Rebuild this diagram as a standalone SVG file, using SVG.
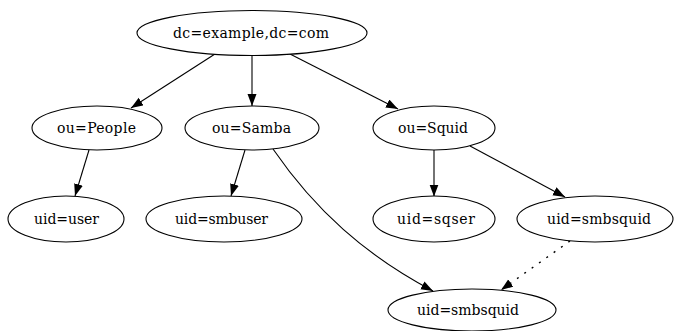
<svg xmlns="http://www.w3.org/2000/svg" width="675" height="331" viewBox="0 0 675 331">
<style>
.n ellipse{fill:#fff;stroke:#000;stroke-width:1.1}
.n text{font-family:'DejaVu Serif','Liberation Serif',serif;font-size:14px;fill:#000;text-anchor:middle}
.e path{fill:none;stroke:#000;stroke-width:1.1}
.e .d{stroke-dasharray:2,7;stroke-width:1.4}
</style>
<defs>
<marker id="ah" markerUnits="userSpaceOnUse" markerWidth="13" markerHeight="10" refX="12" refY="4.5" orient="auto">
<path d="M0,0 L12,4.5 L0,9 z" fill="#000"/>
</marker>
</defs>
<rect width="675" height="331" fill="#fff"/>
<g id="edges" class="e">
<path d="M215,54 L131,108" marker-end="url(#ah)"/>
<path d="M252,55 L252,106" marker-end="url(#ah)"/>
<path d="M290,54 L398,109" marker-end="url(#ah)"/>
<path d="M89,150 L75,196" marker-end="url(#ah)"/>
<path d="M245,150 L231,196" marker-end="url(#ah)"/>
<path d="M434,150 L434,196.5" marker-end="url(#ah)"/>
<path d="M470,146 L565,197" marker-end="url(#ah)"/>
<path d="M273,149 C315,210 365,255 433,291" marker-end="url(#ah)"/>
<path class="d" d="M570,241 L501,290" marker-end="url(#ah)"/>
</g>
<g id="n_root" class="n"><ellipse cx="252" cy="33" rx="115" ry="22.5"/><text x="251" y="38" textLength="156">dc=example,dc=com</text></g>
<g id="n_people" class="n"><ellipse cx="97" cy="128" rx="65" ry="22"/><text x="96.5" y="133" textLength="79">ou=People</text></g>
<g id="n_samba" class="n"><ellipse cx="252" cy="128" rx="67" ry="22"/><text x="251.5" y="133" textLength="79">ou=Samba</text></g>
<g id="n_squid" class="n"><ellipse cx="434" cy="128" rx="61" ry="22"/><text x="433" y="133" textLength="70">ou=Squid</text></g>
<g id="n_user" class="n"><ellipse cx="66" cy="219" rx="58" ry="23"/><text x="66.5" y="224" textLength="65">uid=user</text></g>
<g id="n_smbuser" class="n"><ellipse cx="224" cy="219" rx="78" ry="23"/><text x="221.5" y="224" textLength="93">uid=smbuser</text></g>
<g id="n_sqser" class="n"><ellipse cx="434" cy="219" rx="61" ry="23"/><text x="436" y="224" textLength="78">uid=sqser</text></g>
<g id="n_smbsquid1" class="n"><ellipse cx="595" cy="219" rx="78" ry="23"/><text x="599" y="224" textLength="104">uid=smbsquid</text></g>
<g id="n_smbsquid2" class="n"><ellipse cx="472" cy="310" rx="84" ry="21"/><text x="468" y="315" textLength="102">uid=smbsquid</text></g>
</svg>
